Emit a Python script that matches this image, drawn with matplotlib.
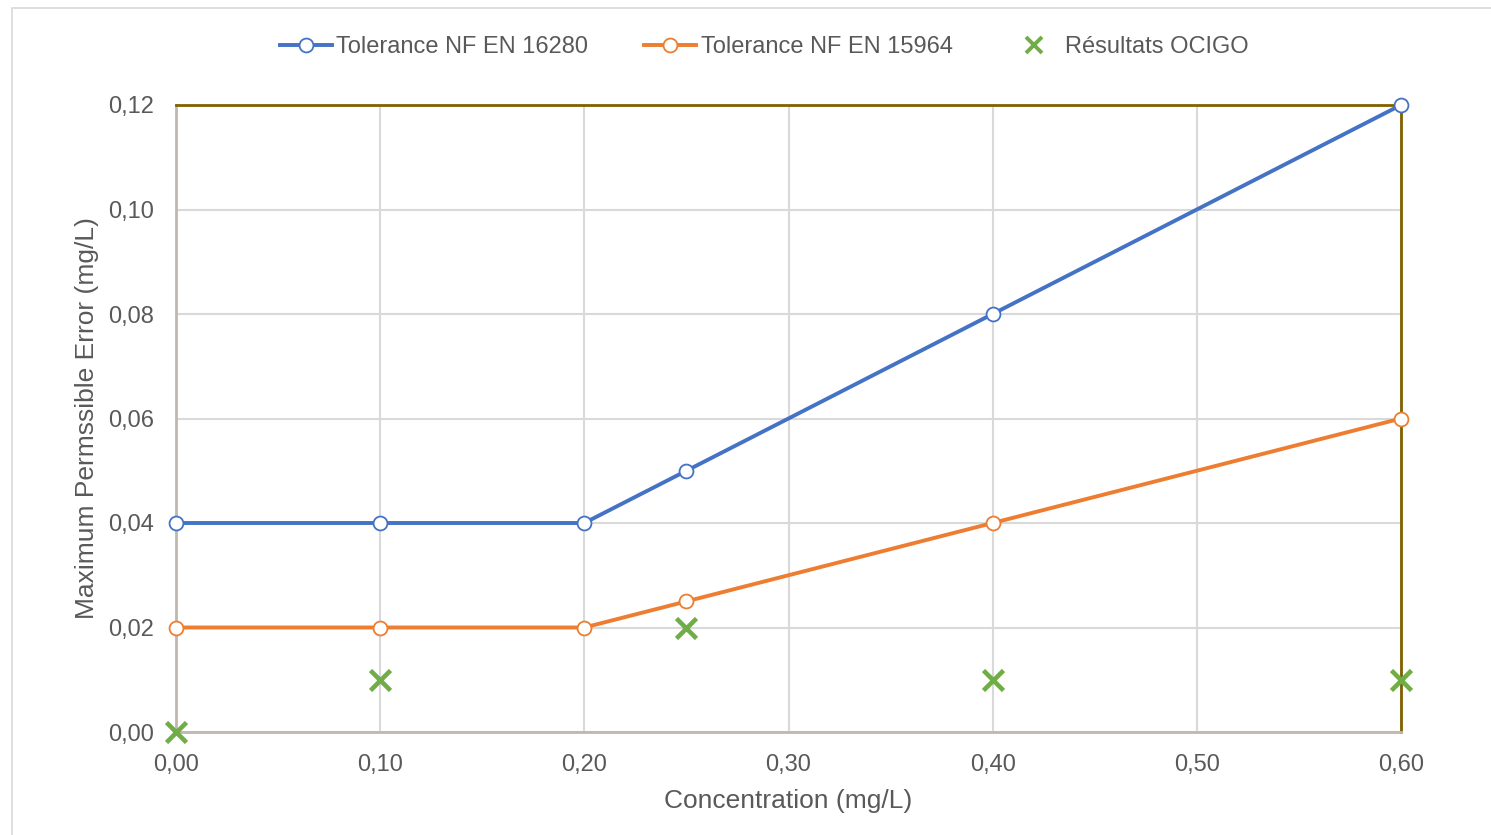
import matplotlib.pyplot as plt
from matplotlib.patches import Rectangle
from matplotlib.ticker import FuncFormatter

plt.rcParams['font.family'] = ['Liberation Sans', 'DejaVu Sans']

# data
conc = [0.00, 0.10, 0.20, 0.25, 0.40, 0.60]
tol_16280 = [0.04, 0.04, 0.04, 0.05, 0.08, 0.12]
tol_15964 = [0.02, 0.02, 0.02, 0.025, 0.04, 0.06]
ocigo_x = [0.00, 0.10, 0.25, 0.40, 0.60]
ocigo_y = [0.00, 0.01, 0.02, 0.01, 0.01]

txt = '#595959'

fig = plt.figure(figsize=(14.91, 8.35), dpi=100)
ax = fig.add_axes([176 / 1491, 1 - 732 / 835, (1401 - 176) / 1491, (732 - 105) / 835])

# chart border
fig.patches.append(Rectangle((12 / 1491, -0.01), 1.0, 1 - 8 / 835 + 0.01,
                             transform=fig.transFigure, fill=False,
                             edgecolor='#d9d9d9', linewidth=1.2))

ax.plot(conc, tol_16280, color='#4472c4', lw=2.8, marker='o', ms=10, mfc='white',
        mec='#4472c4', mew=1.3, label='Tolerance NF EN 16280', clip_on=False, zorder=4)
ax.plot(conc, tol_15964, color='#ed7d31', lw=2.8, marker='o', ms=10, mfc='white',
        mec='#ed7d31', mew=1.3, label='Tolerance NF EN 15964', clip_on=False, zorder=4)
ax.plot(ocigo_x, ocigo_y, ls='none', marker='x', ms=14, mew=3.3, color='#70ad47',
        label='Résultats OCIGO', clip_on=False, zorder=5)

ax.set_xlim(0, 0.6)
ax.set_ylim(0, 0.12)
ax.set_xticks([0, 0.1, 0.2, 0.3, 0.4, 0.5, 0.6])
ax.set_yticks([0, 0.02, 0.04, 0.06, 0.08, 0.10, 0.12])
fmt = FuncFormatter(lambda v, p: f'{v:.2f}'.replace('.', ','))
ax.xaxis.set_major_formatter(fmt)
ax.yaxis.set_major_formatter(fmt)
ax.tick_params(length=0, labelsize=17, colors=txt)
ax.tick_params(axis='x', pad=16)
ax.tick_params(axis='y', pad=16)
ax.grid(True, color='#d9d9d9', lw=1.5)
ax.set_axisbelow(True)

for s in ['left', 'bottom']:
    ax.spines[s].set_color('#bfb8ad')
    ax.spines[s].set_linewidth(2)
for s in ['top', 'right']:
    ax.spines[s].set_color('#806000')
    ax.spines[s].set_linewidth(2)

ax.set_xlabel('Concentration (mg/L)', fontsize=19, color=txt, labelpad=9)
ax.set_ylabel('Maximum Permssible Error (mg/L)', fontsize=19, color=txt, labelpad=6)

leg = fig.legend(loc='center', bbox_to_anchor=(764 / 1491, 1 - 47 / 835), ncol=3,
                 frameon=False, fontsize=17, handlelength=2.2, columnspacing=2.35,
                 handletextpad=0.2)
for t in leg.get_texts():
    t.set_color(txt)
leg.legend_handles[2].set_markersize(11)
leg.legend_handles[2].set_markeredgewidth(2.8)

fig.savefig('out.png', dpi=100)
